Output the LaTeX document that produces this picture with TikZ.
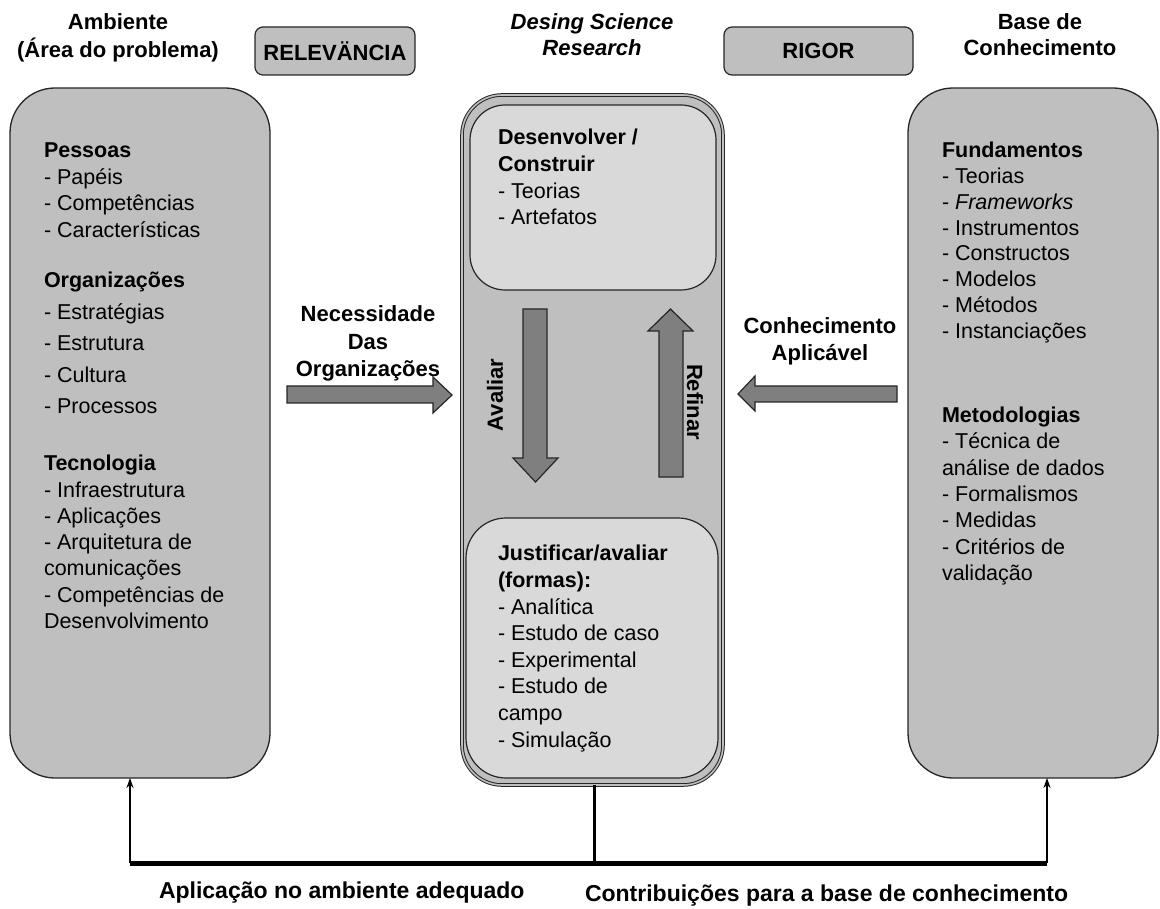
\documentclass[tikz,border=0pt]{standalone}
\usepackage{fontspec}
\setmainfont{Liberation Sans}
\usetikzlibrary{arrows.meta}
\definecolor{boxgray}{HTML}{BFBFBF}
\definecolor{innergray}{HTML}{D9D9D9}
\definecolor{arrowgray}{HTML}{7F7F7F}
\definecolor{edge}{HTML}{262626}
\begin{document}
\begin{tikzpicture}[x=1pt,y=-1pt,
  every node/.style={inner sep=0pt, outer sep=0pt},
  bigbox/.style={draw=edge, line width=1.3pt, fill=boxgray, rounded corners=45pt, anchor=north west},
  innerbox/.style={draw=edge, line width=1.2pt, fill=innergray, anchor=north west},
  tagbox/.style={draw=edge, line width=1.2pt, fill=boxgray, rounded corners=8pt, anchor=north west},
  body/.style={align=left, anchor=north west},
  head/.style={font=\fontsize{22}{26}\selectfont\bfseries, align=center, anchor=north},
  blockarrow/.style={draw=edge, line width=1.2pt, fill=arrowgray, line join=miter},
  foot/.style={font=\fontsize{23}{27}\selectfont\bfseries, anchor=base west},
  label/.style={font=\fontsize{22}{27.5}\selectfont\bfseries, align=center, anchor=north},
]
\useasboundingbox (0,0) rectangle (1160,909);

% headings
\node[head] (hamb) at (118,11.5) {\strut Ambiente\\(Área do problema)};
\node[head, font=\fontsize{22}{26}\selectfont\bfseries\itshape] (hdsr) at (592,11.5) {\strut Desing Science\\Research};
\node[head] (hbase) at (1040,11.5) {\strut Base de\\Conhecimento};
\node[tagbox, minimum width=160pt, minimum height=48pt] (rel) at (255,27) {};
\node[font=\fontsize{22}{26}\selectfont\bfseries] (relt) at (rel.center) {RELEVÄNCIA};
\node[tagbox, minimum width=189pt, minimum height=48pt] (rig) at (724,27) {};
\node[font=\fontsize{22}{26}\selectfont\bfseries] (rigt) at (rig.center) {RIGOR};

% the three columns
\node[bigbox, minimum width=260pt, minimum height=690pt] (amb) at (10,88) {};
\node[bigbox, minimum width=250pt, minimum height=690pt] (base) at (908,88) {};
\node[draw=edge, line width=1pt, double=boxgray, double distance=1.6pt, fill=boxgray,
      rounded corners=40pt, anchor=north west, minimum width=261pt, minimum height=690pt] (dsr) at (462,95) {};
\node[innerbox, rounded corners=35pt, minimum width=246pt, minimum height=185pt] (dev) at (470,105) {};
\node[innerbox, rounded corners=40pt, minimum width=252pt, minimum height=260pt] (jus) at (466,518) {};

% environment column
\node[body, font=\fontsize{21.5}{26.5}\selectfont] (pes) at (44,139.2)
  {\strut\textbf{Pessoas}\\- Papéis\\- Competências\\- Características};
\node[body, font=\fontsize{21.5}{31.5}\selectfont] (org) at (44,265.5)
  {\strut\textbf{Organizações}\\- Estratégias\\- Estrutura\\- Cultura\\- Processos};
\node[body, font=\fontsize{21.5}{26.3}\selectfont] (tec) at (44,452.3)
  {\strut\textbf{Tecnologia}\\- Infraestrutura\\- Aplicações\\- Arquitetura de\\comunicações\\- Competências de\\Desenvolvimento};

% knowledge base column
\node[body, font=\fontsize{21.5}{25.9}\selectfont] (fun) at (942,139.2)
  {\strut\textbf{Fundamentos}\\- Teorias\\- \textit{Frameworks}\\- Instrumentos\\- Constructos\\- Modelos\\- Métodos\\- Instanciações};
\node[body, font=\fontsize{21.5}{26.3}\selectfont] (met) at (942,404.2)
  {\strut\textbf{Metodologias}\\- Técnica de\\análise de dados\\- Formalismos\\- Medidas\\- Critérios de\\validação};

% design science column
\node[body, font=\fontsize{21.5}{26.7}\selectfont] (devt) at (498,126.2)
  {\strut\textbf{Desenvolver /}\\\textbf{Construir}\\- Teorias\\- Artefatos};
\node[body, font=\fontsize{21.5}{26.6}\selectfont] (just) at (498,542.2)
  {\strut\textbf{Justificar/avaliar}\\\textbf{(formas):}\\- Analítica\\- Estudo de caso\\- Experimental\\- Estudo de\\campo\\- Simulação};

% evaluate / refine cycle
\draw[blockarrow] (523,309) -- (547,309) -- (547,458) -- (558,458) -- (535.5,482)
  -- (513,458) -- (523,458) -- cycle;
\draw[blockarrow] (659,477) -- (659,331) -- (648,331) -- (670.5,309) -- (693,331)
  -- (683,331) -- (683,477) -- cycle;
\node[rotate=90, font=\fontsize{22}{26}\selectfont\bfseries] (aval) at (495,395) {Avaliar};
\node[rotate=-90, font=\fontsize{22}{26}\selectfont\bfseries] (ref) at (695,402) {Refinar};

% relevance and rigor inputs
\draw[blockarrow] (287,386) -- (433,386) -- (433,377) -- (452,395) -- (433,413)
  -- (433,403) -- (287,403) -- cycle;
\draw[blockarrow] (897,386) -- (755,386) -- (755,376) -- (738,394) -- (755,411)
  -- (755,402) -- (897,402) -- cycle;
\node[label] (nec) at (368,302.5) {\strut Necessidade\\Das\\Organizações};
\node[label, font=\fontsize{22}{27}\selectfont\bfseries] (conh) at (820,314.5) {\strut Conhecimento\\Aplicável};

% feedback lines
\coordinate (hub) at (594,863);
\coordinate (fbL) at (130,863);
\coordinate (fbR) at (1047,863);
\draw[line width=3pt] (dsr.south -| hub) -- (hub);
\draw[line width=5pt] (fbL) -- (fbR);
\draw[line width=2pt, -{Stealth[length=10pt,width=7pt]}] (fbL) -- (fbL |- amb.south);
\draw[line width=2pt, -{Stealth[length=10pt,width=7pt]}] (fbR) -- (fbR |- base.south);
\node[foot] (apl) at (159,898) {Aplicação no ambiente adequado};
\node[foot] (contr) at (585,901) {Contribuições para a base de conhecimento};
\end{tikzpicture}
\end{document}
